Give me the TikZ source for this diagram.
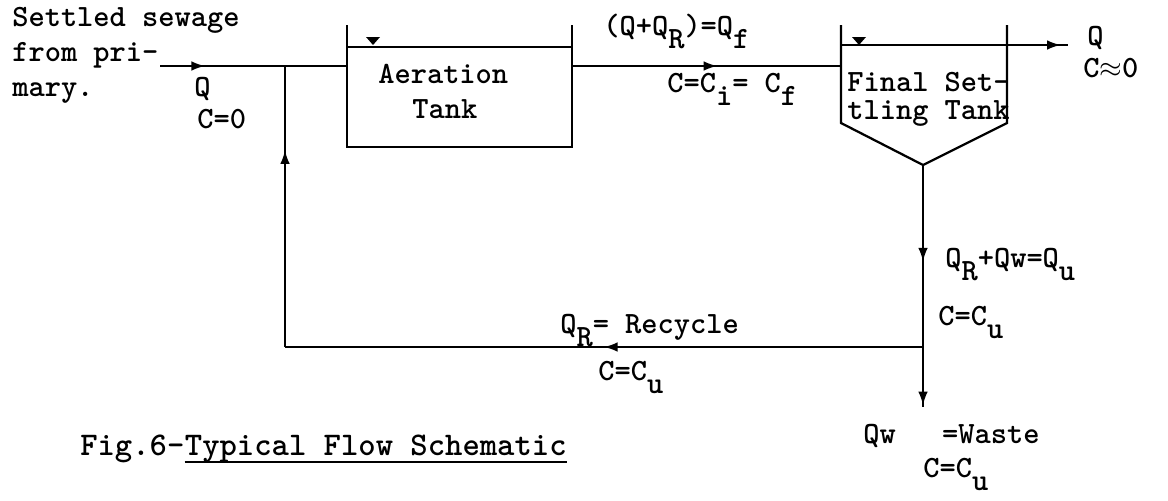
\documentclass[tikz,border=0pt]{standalone}
\usepackage{fontspec}
\usepackage{tikz}
\usetikzlibrary{arrows.meta,positioning,calc,decorations.markings}
\tikzset{
  lbl/.style={font=\ttfamily\bfseries\fontsize{22}{26}\selectfont,inner sep=0pt,anchor=base west},
  figlbl/.style={lbl,font=\ttfamily\bfseries\fontsize{23.5}{27}\selectfont},
  pipe/.style={line width=1.3pt},
  wall/.style={line width=1.6pt},
  flow/.style={postaction={decorate},decoration={markings,
    mark=at position #1 with {\arrow{Latex[length=3.4mm,width=2.4mm]}}}},
  flow/.default=0.5,
  level/.style={fill=black},
}
\newcommand{\lowr}[1]{\raisebox{-0.45em}{#1}}

\begin{document}
\begin{tikzpicture}[x=0.025cm,y=-0.025cm]
  \useasboundingbox (0,0) rectangle (1168,500);
  % pipe junctions
  \coordinate (in) at (160,66);
  \coordinate (j1) at (285,66);
  \coordinate (aw) at (347,66);
  \coordinate (ae) at (572,66);
  \coordinate (sw) at (841,66);
  \coordinate (apex) at (923,165);
  \coordinate (j3) at (923,347);
  \coordinate (j2) at (285,347);
  \coordinate (wout) at (923,407);
  \coordinate (se) at (1007,45);
  \coordinate (eff) at (1068,45);
  % tanks
  \draw[wall] (347,25) -- (347,147) -- (572,147) -- (572,25);
  \draw[pipe] (347,47) -- (572,47);
  \fill[level] (366,37) -- (380,37) -- (373,45) -- cycle;
  \draw[wall] (841,25) -- (841,123) -- (apex) -- (1007,123) -- (1007,25);
  \draw[pipe] (841,45) -- (se);
  \fill[level] (852,37) -- (866,37) -- (859,45) -- cycle;
  % flows
  \draw[pipe,flow=0.36] (in) -- (j1);
  \draw[pipe] (j1) -- (aw);
  \draw[pipe,flow=0.54] (ae) -- (sw);
  \draw[pipe,flow=0.88] (se) -- (eff);
  \draw[pipe,flow=0.53] (apex) -- (j3);
  \draw[pipe,flow=0.97] (j3) -- (wout);
  \draw[pipe,flow=0.5] (j3) -- (j2);
  \draw[pipe,flow=0.7] (j2) -- (j1);
  % labels
  \node[lbl] (src1) at (12,26) {Settled sewage};
  \node[lbl] (src2) at (12,61) {from pri-};
  \node[lbl] (src3) at (12,96) {mary.};
  \node[lbl] (qin) at (194,96) {Q};
  \node[lbl] (cin) at (197,128) {C=0};
  \node[lbl] (aer1) at (378,83) {Aeration};
  \node[lbl] (aer2) at (412,118) {Tank};
  \node[lbl] (qf) at (603,35) {(Q+Q\lowr{R})=Q\lowr{f}};
  \node[lbl] (cf) at (667,92) {C=C\lowr{i}= C\lowr{f}};
  \node[lbl] (fst1) at (847,91) {Final Set-};
  \node[lbl] (fst2) at (847,119) {tling Tank};
  \node[lbl] (qout) at (1087,45) {Q};
  \node[lbl] (cout) at (1083,77) {C$\approx$0};
  \node[lbl] (qu) at (945,267) {Q\lowr{R}+Qw=Q\lowr{u}};
  \node[lbl] (cu) at (938,325) {C=C\lowr{u}};
  \node[lbl] (qr) at (560,333) {Q\lowr{R}= Recycle};
  \node[lbl] (cr) at (598,380) {C=C\lowr{u}};
  \node[lbl] (qw) at (863,443) {Qw\hspace{1.5em}=Waste};
  \node[lbl] (cw) at (923,477) {C=C\lowr{u}};
  \node[figlbl] (fig) at (80,455) {Fig.6-};
  \node[figlbl] (ttl) at (fig.base east) {Typical Flow Schematic};
  \draw[line width=1.1pt] ([yshift=-5pt]ttl.base west) -- ([yshift=-5pt]ttl.base east);
\end{tikzpicture}
\end{document}
